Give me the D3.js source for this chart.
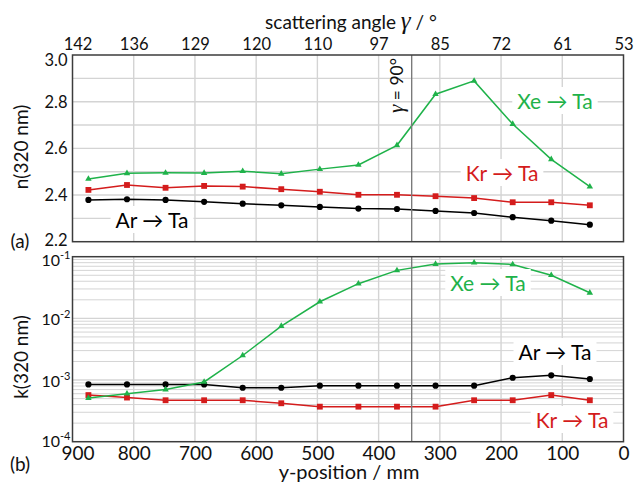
<!DOCTYPE html>
<html>
<head>
<meta charset="utf-8">
<script src="https://cdn.jsdelivr.net/npm/d3@7"></script>
<style>
  html, body { margin: 0; padding: 0; background: #fff; }
  svg { display: block; font-family: Lato, "Open Sans", sans-serif; }
</style>
</head>
<body>
<svg id="chart" width="634" height="483"></svg>
<script>
// y-position of each measurement along the substrate (mm)
const positions = [874, 811, 748, 685, 622, 559, 496, 433, 370, 307, 244, 181, 118, 55];

// refractive index n at 320 nm
const nAr = [2.379, 2.382, 2.379, 2.371, 2.363, 2.356, 2.349, 2.342, 2.340, 2.332, 2.323, 2.305, 2.290, 2.273];
const nKr = [2.422, 2.443, 2.431, 2.439, 2.436, 2.425, 2.414, 2.401, 2.401, 2.395, 2.387, 2.369, 2.369, 2.356];
const nXe = [2.469, 2.493, 2.495, 2.494, 2.502, 2.491, 2.511, 2.529, 2.613, 2.832, 2.889, 2.704, 2.553, 2.436];

// extinction coefficient k at 320 nm
const kAr = [8.5e-4, 8.5e-4, 8.5e-4, 8.5e-4, 7.5e-4, 7.5e-4, 8.1e-4, 8.1e-4, 8.1e-4, 8.1e-4, 8.1e-4, 1.09e-3, 1.19e-3, 1.04e-3];
const kKr = [5.7e-4, 5.2e-4, 4.7e-4, 4.7e-4, 4.7e-4, 4.2e-4, 3.7e-4, 3.7e-4, 3.7e-4, 3.7e-4, 4.7e-4, 4.7e-4, 5.7e-4, 4.7e-4];
const kXe = [5.1e-4, 6.0e-4, 7.0e-4, 9.3e-4, 2.5e-3, 7.5e-3, 0.0186, 0.0365, 0.060, 0.076, 0.080, 0.075, 0.050, 0.026];

// bottom axis ticks (mm) and the matching scattering angles on the top axis
const posTicks = [900, 800, 700, 600, 500, 400, 300, 200, 100, 0];
const angleLabels = [142, 136, 129, 120, 110, 97, 85, 72, 61, 53];
const nTicks = [2.2, 2.4, 2.6, 2.8, 3.0];
const kTicks = [1e-4, 1e-3, 1e-2, 1e-1];
const gamma90 = 346; // position where the scattering angle is 90°

const colAr = "#000000", colKr = "#d41c1c", colXe = "#1fb24a";

const svg = d3.select("#chart");
const L = 72.5, R = 623.5;
const topA = 55, botA = 241.7, topB = 256.7, botB = 441.7;

const x = d3.scaleLinear().domain([900, 0]).range([L, R]);
const yN = d3.scaleLinear().domain([2.2, 3.0]).range([botA, topA]);
const yK = d3.scaleLog().domain([1e-4, 1e-1]).range([botB, topB]);

const gridCol = "#d4d4d4";

// ---------- panel (a): grid ----------
const gA = svg.append("g");
gA.selectAll("line.hg").data(d3.range(2.3, 2.95, 0.1)).join("line")
  .attr("x1", L).attr("x2", R).attr("y1", d => yN(d)).attr("y2", d => yN(d))
  .attr("stroke", gridCol).attr("stroke-width", 1.4);
gA.selectAll("line.vg").data(posTicks.slice(1, -1)).join("line")
  .attr("x1", d => x(d)).attr("x2", d => x(d)).attr("y1", topA).attr("y2", botA)
  .attr("stroke", gridCol).attr("stroke-width", 1.4);

// ---------- panel (b): grid ----------
const gB = svg.append("g");
const minorK = [];
for (let e = -4; e < -1; e++) for (let m = 2; m <= 9; m++) minorK.push(m * Math.pow(10, e));
gB.selectAll("line.mg").data(minorK).join("line")
  .attr("x1", L).attr("x2", R).attr("y1", d => yK(d)).attr("y2", d => yK(d))
  .attr("stroke", gridCol).attr("stroke-width", 1);
gB.selectAll("line.Mg").data([1e-3, 1e-2]).join("line")
  .attr("x1", L).attr("x2", R).attr("y1", d => yK(d)).attr("y2", d => yK(d))
  .attr("stroke", gridCol).attr("stroke-width", 1.4);
gB.selectAll("line.vg").data(posTicks.slice(1, -1)).join("line")
  .attr("x1", d => x(d)).attr("x2", d => x(d)).attr("y1", topB).attr("y2", botB)
  .attr("stroke", gridCol).attr("stroke-width", 1.4);

// γ = 90° marker line in both panels
[[topA, botA], [topB, botB]].forEach(([t, b]) => {
  svg.append("line").attr("x1", x(gamma90)).attr("x2", x(gamma90))
    .attr("y1", t).attr("y2", b).attr("stroke", "#7a7a7a").attr("stroke-width", 1.4);
});

// ---------- series ----------
function drawSeries(g, yScale, values, color, shape, size) {
  const data = positions.map((p, i) => [p, values[i]]);
  g.append("path").datum(data)
    .attr("fill", "none").attr("stroke", color).attr("stroke-width", 1.5)
    .attr("d", d3.line().x(d => x(d[0])).y(d => yScale(d[1])));
  g.selectAll(null).data(data).join("path")
    .attr("transform", d => `translate(${x(d[0])},${yScale(d[1])})`)
    .attr("d", d3.symbol().type(shape).size(size))
    .attr("fill", color);
}

drawSeries(gA, yN, nAr, colAr, d3.symbolCircle, 30);
drawSeries(gA, yN, nKr, colKr, d3.symbolSquare, 34);
drawSeries(gA, yN, nXe, colXe, d3.symbolTriangle, 18);

drawSeries(gB, yK, kAr, colAr, d3.symbolCircle, 30);
drawSeries(gB, yK, kKr, colKr, d3.symbolSquare, 34);
drawSeries(gB, yK, kXe, colXe, d3.symbolTriangle, 18);

// ---------- frames ----------
[[topA, botA], [topB, botB]].forEach(([t, b]) => {
  svg.append("rect").attr("x", L).attr("y", t).attr("width", R - L).attr("height", b - t)
    .attr("fill", "none").attr("stroke", "#3c3c3c").attr("stroke-width", 1.5);
});

// ---------- axes ----------
// top: scattering angle labels at the same positions as the y-position ticks
const topAxis = d3.axisTop(x).tickValues(posTicks).tickSize(0).tickPadding(0)
  .tickFormat((d, i) => angleLabels[i]);
const gTop = svg.append("g").attr("transform", `translate(0,${topA - 5})`).call(topAxis);
gTop.select(".domain").remove();
gTop.selectAll("text").attr("font-size", 16.5).attr("fill", "#111").attr("font-family", "Lato, sans-serif")
  .attr("dy", 0).attr("dx", (d, i) => i === 0 ? 5 : 0);

// bottom: y-position
const botAxis = d3.axisBottom(x).tickValues(posTicks).tickSize(0).tickPadding(0)
  .tickFormat(d3.format("d"));
const gBot = svg.append("g").attr("transform", `translate(0,${botB + 18})`).call(botAxis);
gBot.select(".domain").remove();
gBot.selectAll("text").attr("font-size", 19).attr("fill", "#111").attr("font-family", "Lato, sans-serif")
  .attr("dy", 0).attr("dx", (d, i) => i === 0 ? 5 : 0);

// left (a): n
const leftA = d3.axisLeft(yN).tickValues(nTicks).tickSize(0).tickPadding(5).tickFormat(d3.format(".1f"));
const gLA = svg.append("g").attr("transform", `translate(${L},0)`).call(leftA);
gLA.select(".domain").remove();
gLA.selectAll("text").attr("font-size", 16.5).attr("fill", "#111").attr("font-family", "Lato, sans-serif")
  .attr("dy", d => d === 3.0 ? "0.62em" : (d === 2.2 ? "0.22em" : "0.34em"));

// left (b): k, as powers of ten
const gLB = svg.append("g");
kTicks.forEach(v => {
  const t = gLB.append("text")
    .attr("x", L - 2).attr("y", yK(v) + (v === 1e-1 ? 9 : (v === 1e-4 ? 5 : 7)))
    .attr("text-anchor", "end").attr("font-size", 16).attr("fill", "#111");
  t.append("tspan").text("10");
  t.append("tspan").attr("dy", -7).attr("font-size", 11).text(String(Math.round(Math.log10(v))));
});

// ---------- axis titles ----------
const title = svg.append("text").attr("x", 351).attr("y", 29).attr("text-anchor", "middle")
  .attr("font-size", 19).attr("fill", "#111");
title.append("tspan").text("scattering angle ");
title.append("tspan").attr("font-family", "Liberation Serif, serif").attr("font-style", "italic")
  .attr("font-size", 25).text("γ");
title.append("tspan").text(" / °");

svg.append("text").attr("x", 349).attr("y", 479).attr("text-anchor", "middle")
  .attr("font-size", 20).attr("fill", "#111").text("y-position / mm");

svg.append("text").attr("transform", "translate(28,147) rotate(-90)").attr("text-anchor", "middle")
  .attr("font-size", 19).attr("fill", "#111").text("n(320 nm)");
svg.append("text").attr("transform", "translate(28,357) rotate(-90)").attr("text-anchor", "middle")
  .attr("font-size", 19).attr("fill", "#111").text("k(320 nm)");

svg.append("text").attr("x", 20).attr("y", 248).attr("text-anchor", "middle")
  .attr("font-size", 19).attr("fill", "#111").text("(a)");
svg.append("text").attr("x", 20).attr("y", 471).attr("text-anchor", "middle")
  .attr("font-size", 19).attr("fill", "#111").text("(b)");

// γ = 90° note next to the marker line
const gl = svg.append("text").attr("transform", `translate(${x(gamma90) - 9},113) rotate(-90)`)
  .attr("font-size", 17.5).attr("fill", "#111");
gl.append("tspan").attr("font-family", "Liberation Serif, serif").attr("font-style", "italic")
  .attr("font-size", 21).text("γ");
gl.append("tspan").text(" = 90°");

// ---------- series labels on white boxes ----------
function seriesLabel(cx, baseline, txt, color) {
  const g = svg.append("g");
  const rect = g.append("rect").attr("fill", "#fff");
  const t = g.append("text").attr("x", cx).attr("y", baseline).attr("text-anchor", "middle")
    .attr("font-size", 21).attr("fill", color).text(txt);
  const bb = t.node().getBBox();
  rect.attr("x", bb.x - 5).attr("y", bb.y - 1).attr("width", bb.width + 10).attr("height", bb.height + 2);
}
seriesLabel(152, 228, "Ar → Ta", colAr);
seriesLabel(502, 181, "Kr → Ta", colKr);
seriesLabel(555, 109, "Xe → Ta", colXe);
seriesLabel(488, 291, "Xe → Ta", colXe);
seriesLabel(555, 360, "Ar → Ta", colAr);
seriesLabel(572, 428, "Kr → Ta", colKr);
</script>
</body>
</html>
